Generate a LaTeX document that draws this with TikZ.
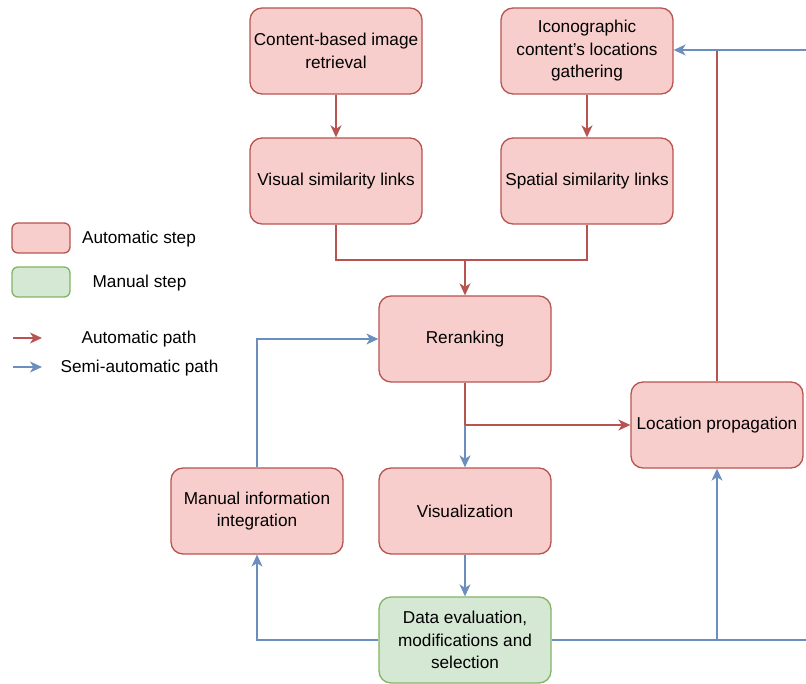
\documentclass[tikz,border=0pt]{standalone}
\usepackage{fontspec}
\setmainfont{Liberation Sans}
\usetikzlibrary{arrows.meta}
\definecolor{autofill}{HTML}{F8CECC}
\definecolor{autodraw}{HTML}{B85450}
\definecolor{manfill}{HTML}{D5E8D4}
\definecolor{mandraw}{HTML}{82B366}
\definecolor{semiblue}{HTML}{6C8EBF}
\tikzset{
  autobox/.style={draw=autodraw, fill=autofill, line width=1.3pt, rounded corners=12pt,
    minimum width=172pt, minimum height=86pt, align=center, inner sep=2pt,
    font=\fontsize{17.2}{22.5}\selectfont},
  manbox/.style={autobox, draw=mandraw, fill=manfill},
  legbox/.style={draw=autodraw, fill=autofill, line width=1.3pt, rounded corners=6pt,
    minimum width=58pt, minimum height=30pt},
  legtext/.style={font=\fontsize{17.2}{22.5}\selectfont},
  tip/.style={-{Stealth[length=12pt,width=11pt,inset=3.5pt]}},
  autoline/.style={draw=autodraw, line width=1.3pt},
  semiline/.style={draw=semiblue, line width=1.3pt},
  autoarrow/.style={autoline, tip},
  semiarrow/.style={semiline, tip},
}
\begin{document}
\begin{tikzpicture}[x=1pt,y=-1pt]
\useasboundingbox (0,0) rectangle (806,684);
% boxes
\node[autobox] (cbir) at (336,51) {Content-based image\\retrieval};
\node[autobox] (icon) at (587,51) {Iconographic\\content's locations\\gathering};
\node[autobox] (vis) at (336,181) {Visual similarity links};
\node[autobox] (spa) at (587,181) {Spatial similarity links};
\node[autobox] (rer) at (465,339) {Reranking};
\node[autobox] (viz) at (465,511) {Visualization};
\node[autobox] (mii) at (257,511) {Manual information\\integration};
\node[autobox] (loc) at (717,425) {Location propagation};
\node[manbox] (dat) at (465,640) {Data evaluation,\\modifications and\\selection};
% legend
\node[legbox] (la) at (41,238) {};
\node[legbox, draw=mandraw, fill=manfill] (lm) at (41,282) {};
\node[legtext] (lat) at (139,239.5) {Automatic step};
\node[legtext] (lmt) at (139.5,283.5) {Manual step};
\coordinate (lap0) at (13,338);
\coordinate (lap1) at (42,338);
\coordinate (lsp0) at (13,367);
\coordinate (lsp1) at (42,367);
\draw[autoarrow] (lap0) -- (lap1);
\draw[semiarrow] (lsp0) -- (lsp1);
\node[legtext] (lapt) at (139,339.5) {Automatic path};
\node[legtext] (lspt) at (139.5,368.5) {Semi-automatic path};
% coordinates
\coordinate (merge) at (465,260);
\coordinate (split) at (465,425);
\coordinate (rightlow) at (806,640);
\coordinate (righttop) at (806,50);
\coordinate (uplow) at (717,640);
% connectors
\draw[autoarrow] (cbir) -- (vis);
\draw[autoarrow] (icon) -- (spa);
\draw[autoline] (vis.south) |- (merge);
\draw[autoline] (spa.south) |- (merge);
\draw[autoarrow] (merge) -- (rer.north);
\draw[semiarrow] (rer) -- (viz);
\draw[autoline] (rer.south) -- (split);
\draw[autoarrow] (split) -- (loc.west);
\draw[semiarrow] (viz) -- (dat);
\draw[semiarrow] (dat.west) -| (mii.south);
\draw[semiarrow] (mii.north) |- (rer.west);
\draw[semiline] (dat.east) -- (rightlow);
\draw[semiarrow] (uplow) -- (loc.south);
\draw[autoline] (loc.north) -- (717,50);
\draw[semiarrow] (righttop) -- (icon.east |- righttop);
\end{tikzpicture}
\end{document}
